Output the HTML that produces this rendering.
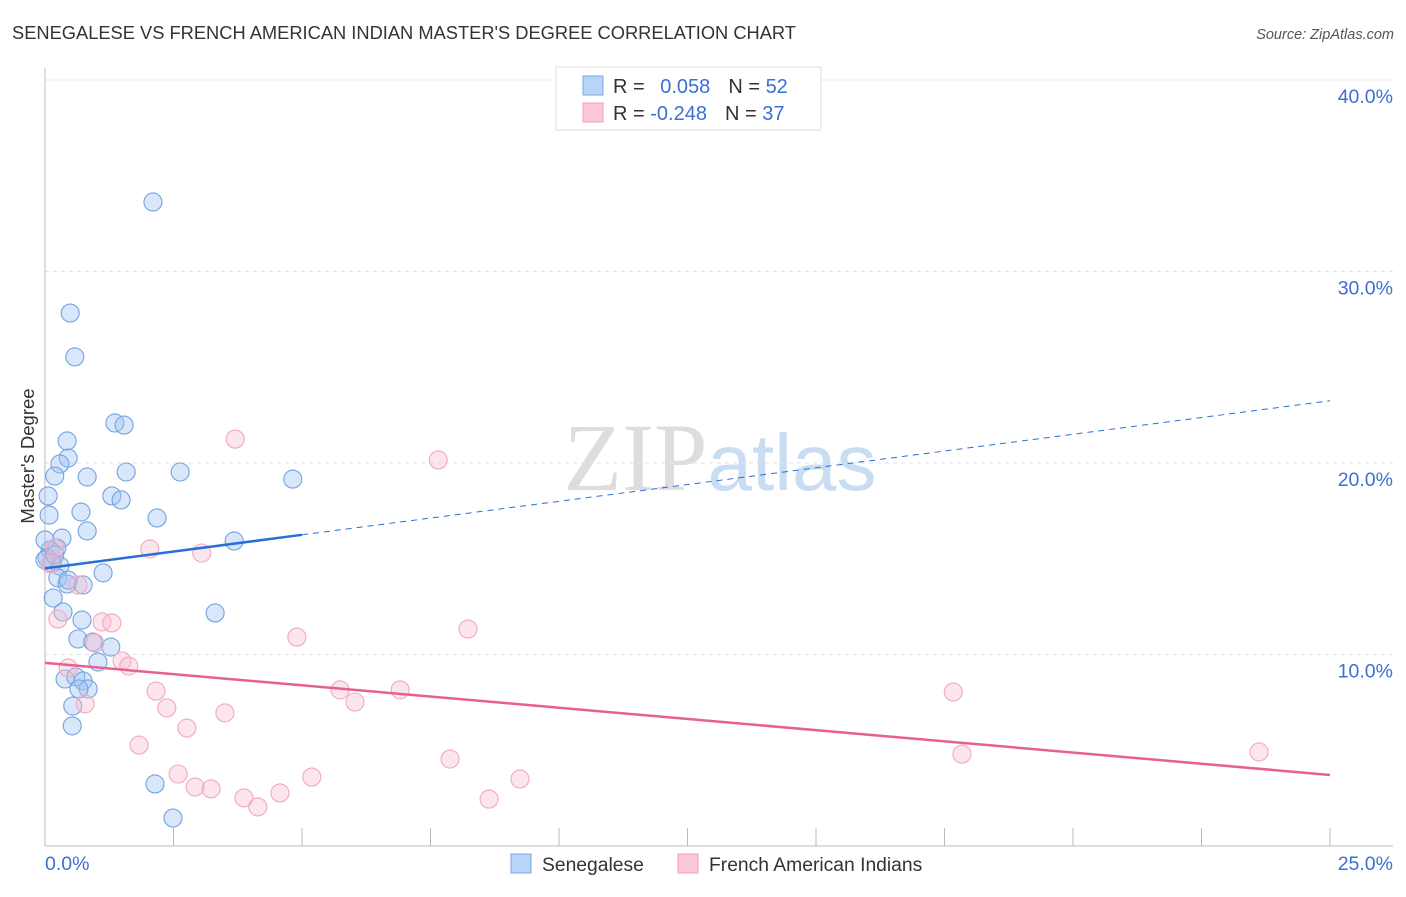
<!DOCTYPE html>
<html><head><meta charset="utf-8"><style>
body{margin:0;background:#fff;font-family:"Liberation Sans",sans-serif;}
</style></head><body>
<svg id="c" width="1406" height="892" xmlns="http://www.w3.org/2000/svg" style="font-family:'Liberation Sans',sans-serif">
<text x="12" y="39" font-size="18.3" fill="#333">SENEGALESE VS FRENCH AMERICAN INDIAN MASTER'S DEGREE CORRELATION CHART</text>
<text x="1394" y="39" font-size="14.5" fill="#555" font-style="italic" text-anchor="end">Source: ZipAtlas.com</text>
<text x="720" y="490" font-size="96" fill="#ddd" text-anchor="middle" font-family="Liberation Serif,serif">ZIP<tspan fill="#c8dcf2" font-family="Liberation Sans,sans-serif" font-size="80">atlas</tspan></text>
<text transform="translate(34,456) rotate(-90)" font-size="18.5" fill="#333" text-anchor="middle">Master's Degree</text>
<g id="grid"></g><g id="marks"></g>
<g>
<rect x="556" y="67" width="265" height="63" fill="#fff" stroke="#ddd"/>
<rect x="583" y="76" width="20" height="19" fill="#b8d4f8" stroke="#7aa6e6"/>
<rect x="583" y="103" width="20" height="19" fill="#fcc8d8" stroke="#eea0b8"/>
<text x="613" y="93" font-size="20" fill="#333">R = <tspan fill="#3b6fd4" dx="10">0.058</tspan><tspan fill="#333" dx="18">N = </tspan><tspan fill="#3b6fd4">52</tspan></text>
<text x="613" y="120" font-size="20" fill="#333">R = <tspan fill="#3b6fd4">-0.248</tspan><tspan fill="#333" dx="18">N = </tspan><tspan fill="#3b6fd4">37</tspan></text>
</g>
<g>
<rect x="511" y="854" width="20" height="19" fill="#b8d4f8" stroke="#7aa6e6"/>
<text x="542" y="871" font-size="19.3" fill="#333">Senegalese</text>
<rect x="678" y="854" width="20" height="19" fill="#fcc8d8" stroke="#eea0b8"/>
<text x="709" y="871" font-size="19.3" fill="#333">French American Indians</text>
</g>
</svg>
<script>
const blueX=[2.10,0.49,0.58,1.36,1.54,0.43,0.45,0.29,0.19,0.82,1.58,2.63,4.82,0.06,1.30,1.48,0.08,0.70,2.18,0.33,0.82,3.68,0.10,0.23,0.04,0.14,0.29,0.25,0.43,0.74,1.13,0.45,0.16,0.35,0.72,3.31,0.64,0.93,1.28,1.03,0.39,0.60,0.74,0.84,0.66,0.54,0.53,2.14,2.49,0.00,0.00,0.19];
const blueY=[33.63,27.83,25.54,22.09,21.98,21.15,20.26,19.95,19.32,19.27,19.53,19.53,19.16,18.28,18.28,18.07,17.28,17.44,17.13,16.08,16.45,15.93,15.46,15.56,15.04,14.78,14.62,14.00,13.68,13.63,14.26,13.89,12.95,12.22,11.80,12.17,10.81,10.65,10.39,9.61,8.72,8.83,8.62,8.20,8.20,7.31,6.27,3.24,1.46,15.98,14.94,15.20];
const pinkX=[3.70,7.65,2.04,3.05,0.19,0.10,0.64,0.25,1.11,1.30,4.90,8.23,0.97,1.50,1.63,0.45,2.16,5.74,6.91,17.67,6.03,2.37,0.78,3.50,2.76,1.83,2.59,5.19,17.84,23.62,7.88,9.24,2.92,3.23,3.87,4.57,4.14,8.64];
const pinkY=[21.25,20.16,15.51,15.30,15.56,14.73,13.63,11.85,11.70,11.65,10.91,11.33,10.60,9.66,9.40,9.30,8.09,8.15,8.15,8.04,7.52,7.21,7.42,6.95,6.16,5.27,3.76,3.60,4.80,4.91,4.54,3.50,3.08,2.98,2.51,2.77,2.04,2.45];
const yTicks=[10,20,30,40];
const yTickLabels=["10.0%","20.0%","30.0%","40.0%"];
const xTicks=[0,2.5,5,7.5,10,12.5,15,17.5,20,22.5,25];
const blueTrend=[14.5,0.35,5.0]; // intercept, slope, solid-until
const pinkTrend=[9.56,-0.234];
const NS="http://www.w3.org/2000/svg";
const sx=v=>45+v*(1285/25), sy=v=>846-v*19.15;
function mk(t,a,p){const e=document.createElementNS(NS,t);for(const k in a)e.setAttribute(k,a[k]);p.appendChild(e);return e;}
const g=document.getElementById('grid'), m=document.getElementById('marks');
yTicks.forEach((v,i)=>{
 const l=mk('line',{x1:45,x2:1393,y1:sy(v),y2:sy(v),stroke:'#e2e2e2','stroke-dasharray':'4,4'},g);
 
 
 const t=mk('text',{x:1393,y:sy(v)+23,'font-size':19.5,fill:'#3b6fd4','text-anchor':'end'},g);t.textContent=yTickLabels[i];
 
 
});
const ax=mk('line',{x1:45,x2:45,y1:68,y2:846,stroke:'#bbb'},g);


const bx=mk('line',{x1:45,x2:1393,y1:846,y2:846,stroke:'#bbb'},g);


xTicks.forEach(v=>{const l=mk('line',{x1:sx(v),x2:sx(v),y1:828,y2:846,stroke:'#bbb'},g);
 
 });
let t0=mk('text',{x:45,y:870,'font-size':19.5,fill:'#3b6fd4'},g);t0.textContent='0.0%';


let t1=mk('text',{x:1393,y:870,'font-size':19.5,fill:'#3b6fd4','text-anchor':'end'},g);t1.textContent='25.0%';


blueX.forEach((x,i)=>{const c=mk('circle',{cx:sx(x),cy:sy(blueY[i]),r:9,fill:'rgba(160,196,242,0.4)',stroke:'#74a2e2','stroke-width':1.1},m);
 
 });
pinkX.forEach((x,i)=>{const c=mk('circle',{cx:sx(x),cy:sy(pinkY[i]),r:9,fill:'rgba(248,186,204,0.38)',stroke:'#f2a8c0','stroke-width':1.1},m);
 
 });
const bt=x=>blueTrend[0]+blueTrend[1]*x;
let l1=mk('line',{x1:sx(0),y1:sy(bt(0)),x2:sx(blueTrend[2]),y2:sy(bt(blueTrend[2])),stroke:'#2a6fd6','stroke-width':2.5},m);


let l2=mk('line',{x1:sx(blueTrend[2]),y1:sy(bt(blueTrend[2])),x2:sx(25),y2:sy(bt(25)),stroke:'#2a6fd6','stroke-width':1,'stroke-dasharray':'6,5'},m);


const pt=x=>pinkTrend[0]+pinkTrend[1]*x;
let l3=mk('line',{x1:sx(0),y1:sy(pt(0)),x2:sx(25),y2:sy(pt(25)),stroke:'#e8608e','stroke-width':2.5},m);


</script>
</body></html>
